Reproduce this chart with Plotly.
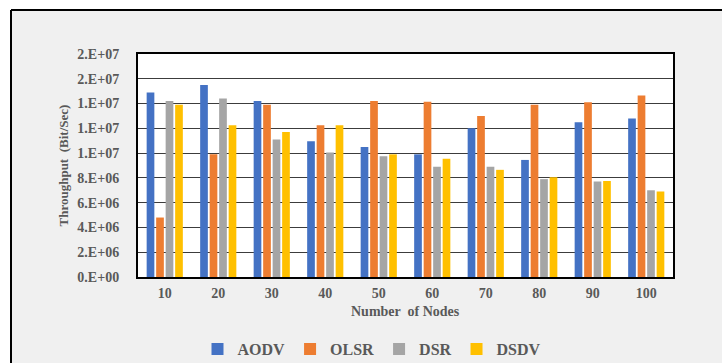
import plotly.graph_objects as go

# Number of nodes in the simulated network
nodes = ["10", "20", "30", "40", "50", "60", "70", "80", "90", "100"]

# Throughput (bit/s) per routing protocol
aodv = [14.9e6, 15.5e6, 14.2e6, 10.95e6, 10.5e6, 9.9e6, 12.0e6, 9.45e6, 12.5e6, 12.8e6]
olsr = [4.8e6, 9.9e6, 13.9e6, 12.25e6, 14.2e6, 14.15e6, 13.0e6, 13.9e6, 14.1e6, 14.65e6]
dsr = [14.2e6, 14.4e6, 11.1e6, 10.05e6, 9.75e6, 8.9e6, 8.9e6, 7.9e6, 7.7e6, 7.0e6]
dsdv = [13.9e6, 12.25e6, 11.7e6, 12.25e6, 9.9e6, 9.55e6, 8.65e6, 8.05e6, 7.75e6, 6.9e6]

# Y-axis ticks in Excel "0.E+00" style
y_ticks = [0, 2e6, 4e6, 6e6, 8e6, 10e6, 12e6, 14e6, 16e6, 18e6]
y_tick_text = ["0.E+00", "2.E+06", "4.E+06", "6.E+06", "8.E+06",
               "1.E+07", "1.E+07", "1.E+07", "2.E+07", "2.E+07"]

series = [
    ("AODV", aodv, "#4472C4"),
    ("OLSR", olsr, "#ED7D31"),
    ("DSR", dsr, "#A5A5A5"),
    ("DSDV", dsdv, "#FFC000"),
]

W, H = 722, 363
L, R, T, B = 138, 49, 54, 86
pw, ph = W - L - R, H - T - B

def px_x(p):
    return (p - L) / pw

def px_y(p):
    return (H - B - p) / ph

FONT = "Liberation Serif"
GREY_TXT = "#595959"

fig = go.Figure()
for name, vals, color in series:
    fig.add_trace(go.Bar(x=nodes, y=vals, name=name, marker_color=color,
                         marker_line_width=0))

fig.update_layout(
    width=W, height=H,
    margin=dict(l=L, r=R, t=T, b=B, pad=0, autoexpand=False),
    paper_bgcolor="#f0f0f0",
    plot_bgcolor="white",
    barmode="group",
    bargap=0.29,
    bargroupgap=0.19,
    showlegend=True,
    legend=dict(
        orientation="h",
        x=px_x(372), xanchor="center",
        y=px_y(349), yanchor="middle",
        bgcolor="rgba(0,0,0,0)",
        font=dict(family=FONT, size=16, color=GREY_TXT, weight="bold"),
        itemwidth=30,
        tracegroupgap=0,
    ),
    font=dict(family=FONT, color=GREY_TXT),
)

fig.update_xaxes(
    type="category",
    showline=True, linecolor="black", linewidth=2, mirror=True,
    showgrid=False,
    ticks="", ticklabelstandoff=2,
    tickfont=dict(family=FONT, size=14, color=GREY_TXT, weight="bold"),
)
fig.update_yaxes(
    range=[0, 18e6],
    tickvals=y_ticks, ticktext=y_tick_text,
    showline=True, linecolor="black", linewidth=2, mirror=True,
    showgrid=True, gridcolor="#3c3c3c", gridwidth=1.2,
    zeroline=False,
    ticks="", ticklabelstandoff=14,
    tickfont=dict(family=FONT, size=14, color=GREY_TXT, weight="bold"),
)

# White plotting area (beneath gridlines and bars)
fig.add_shape(type="rect", xref="paper", yref="paper", layer="below",
              x0=0, x1=1, y0=0, y1=1, fillcolor="white", line_width=0)

# White margin outside the chart frame (left and top strips)
fig.add_shape(type="rect", xref="paper", yref="paper", layer="above",
              x0=px_x(-5), x1=px_x(11), y0=px_y(370), y1=px_y(-5),
              fillcolor="white", line_width=0)
fig.add_shape(type="rect", xref="paper", yref="paper", layer="above",
              x0=px_x(-5), x1=px_x(730), y0=px_y(10), y1=px_y(-5),
              fillcolor="white", line_width=0)
# Chart frame border
fig.add_shape(type="line", xref="paper", yref="paper", layer="above",
              x0=px_x(11), x1=px_x(730), y0=px_y(10), y1=px_y(10),
              line=dict(color="black", width=2))
fig.add_shape(type="line", xref="paper", yref="paper", layer="above",
              x0=px_x(11), x1=px_x(11), y0=px_y(10), y1=px_y(370),
              line=dict(color="black", width=2))

# Axis titles
fig.add_annotation(text="Number  of Nodes", xref="paper", yref="paper",
                   x=0.5, y=px_y(311), xanchor="center", yanchor="middle",
                   showarrow=False,
                   font=dict(family=FONT, size=14, color=GREY_TXT, weight="bold"))
fig.add_annotation(text="Throughput  (Bit/Sec)", xref="paper", yref="paper",
                   x=px_x(63), y=0.5, xanchor="center", yanchor="middle",
                   textangle=-90, showarrow=False,
                   font=dict(family=FONT, size=13, color=GREY_TXT, weight="bold"))

fig.write_html("out.html")
